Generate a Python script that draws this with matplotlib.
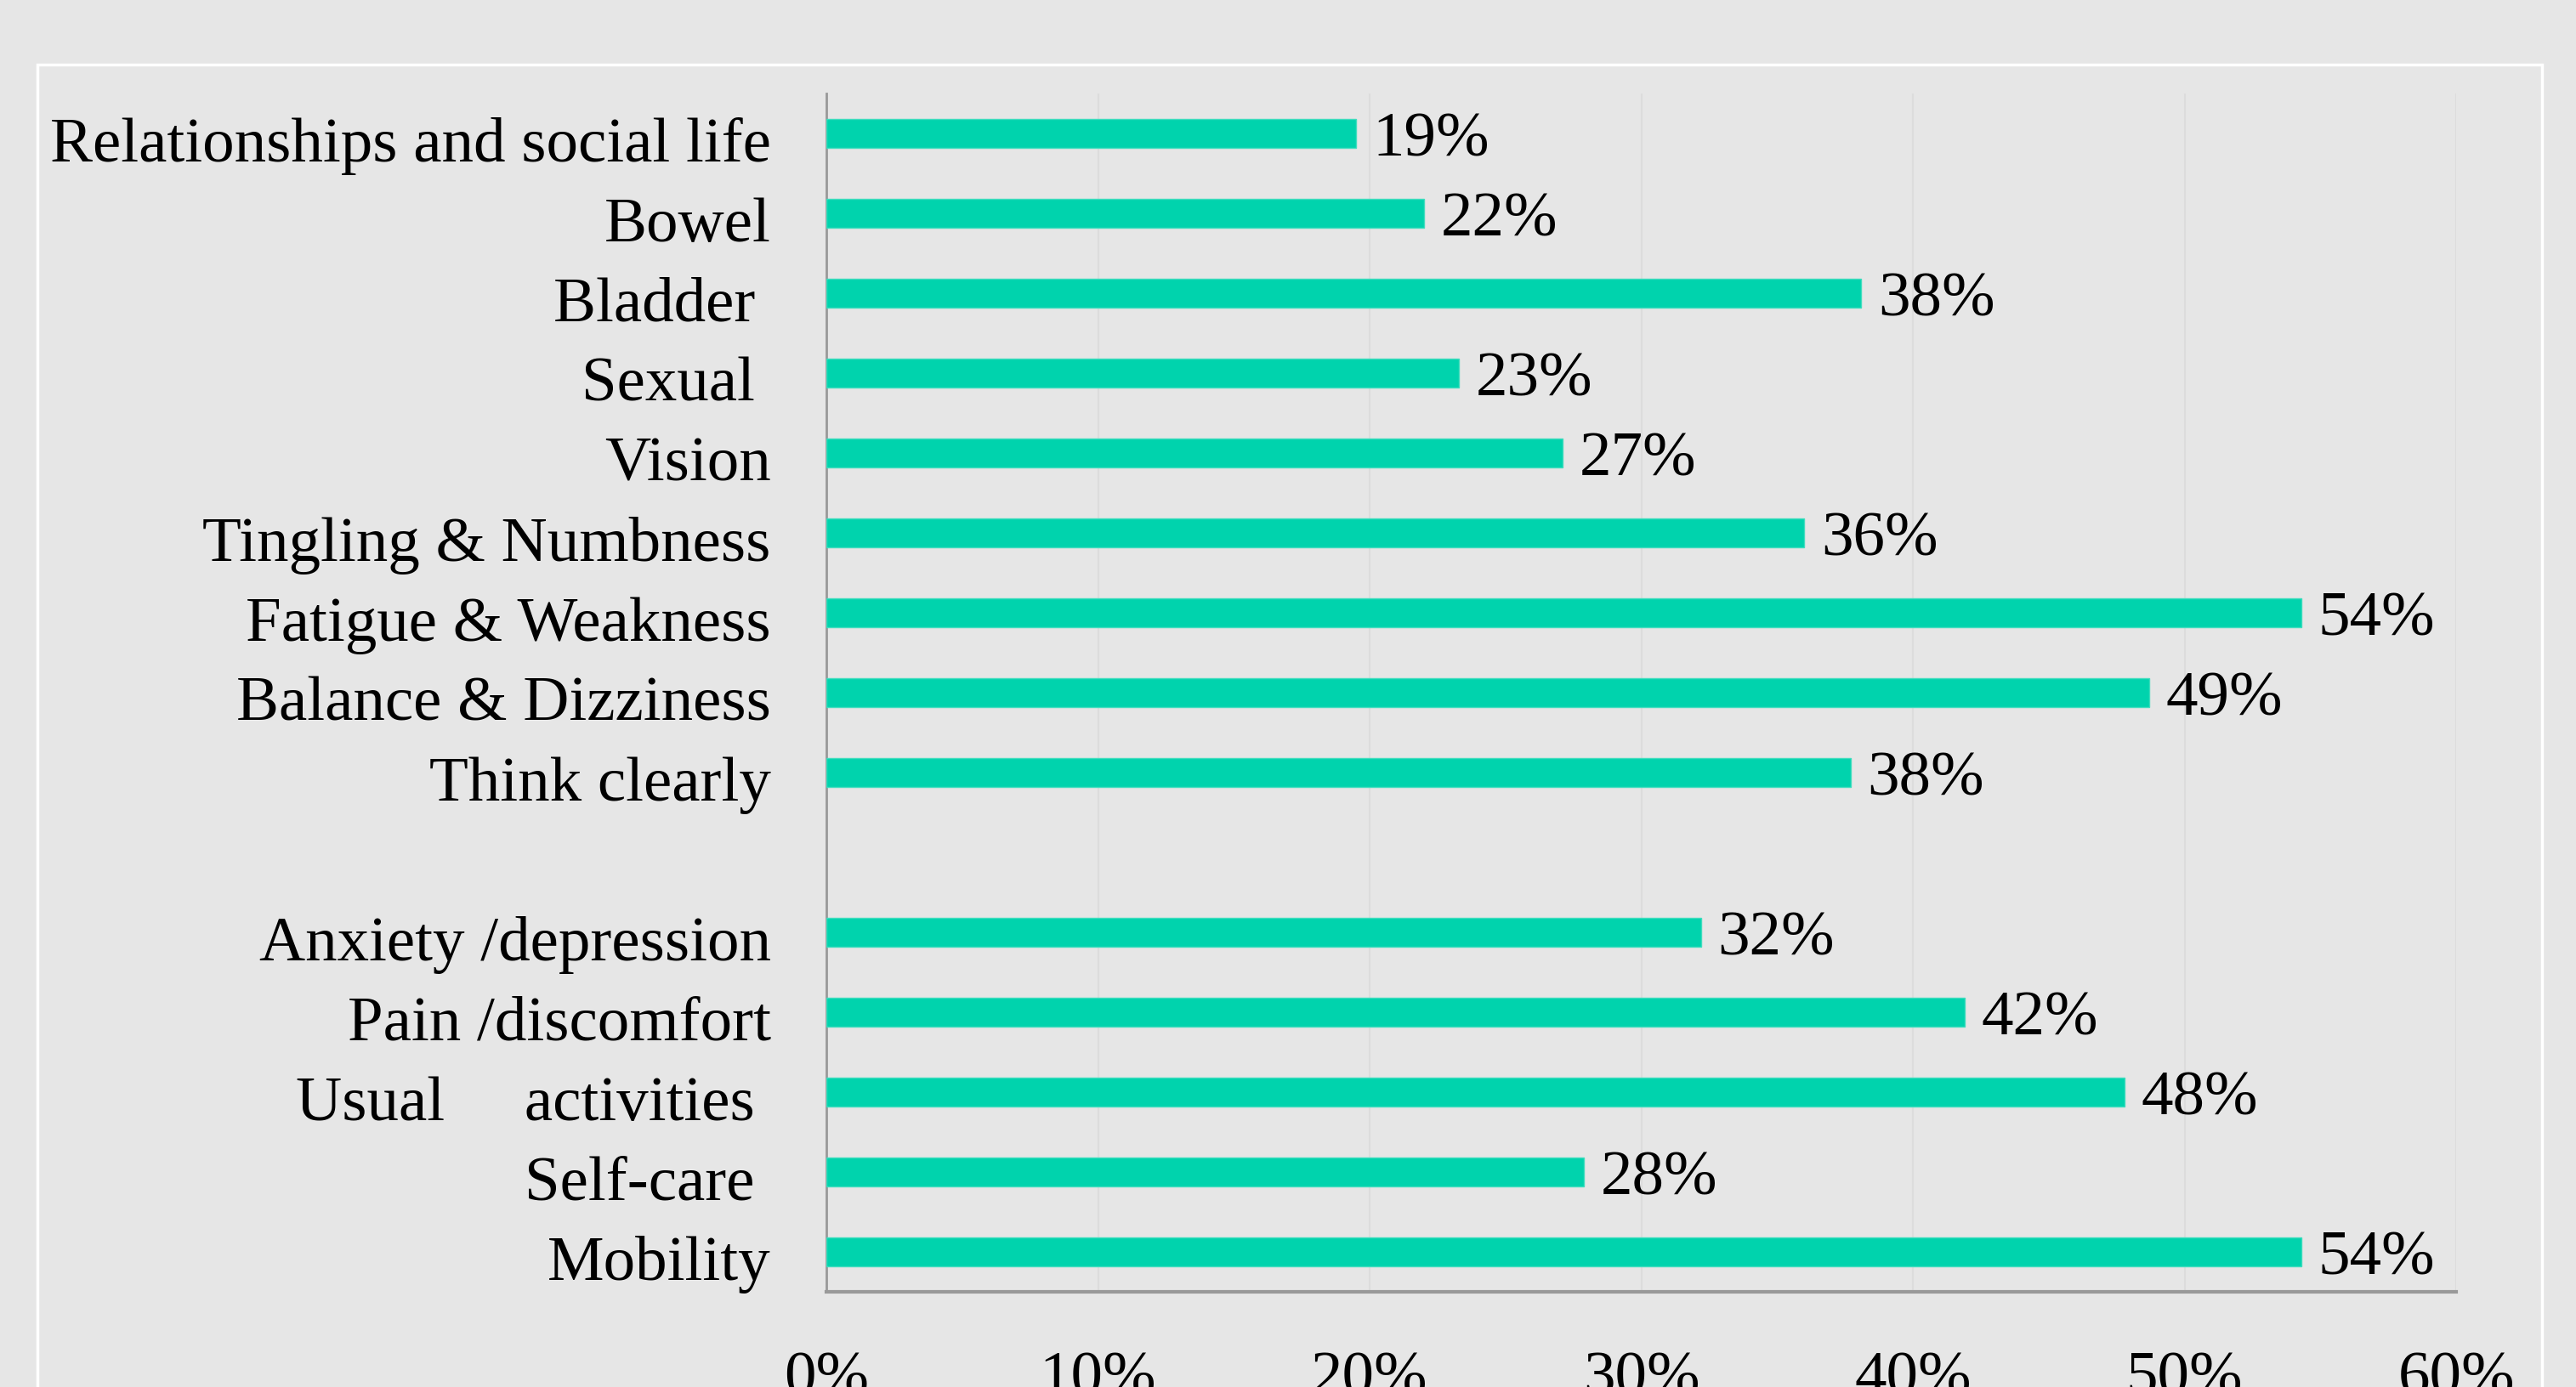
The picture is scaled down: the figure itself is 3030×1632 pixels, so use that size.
import matplotlib.pyplot as plt
from matplotlib.patches import Rectangle
from matplotlib.ticker import FuncFormatter
from matplotlib.transforms import ScaledTranslation

# categories top to bottom (blank slot separates the two groups)
labels = ["Relationships and social life", "Bowel", "Bladder ", "Sexual ", "Vision",
          "Tingling & Numbness", "Fatigue & Weakness", "Balance & Dizziness",
          "Think clearly", "", "Anxiety /depression", "Pain /discomfort",
          "Usual     activities ", "Self-care ", "Mobility"]
values = [19.5, 22.0, 38.1, 23.3, 27.1, 36.0, 54.3, 48.7, 37.7, None,
          32.2, 41.9, 47.8, 27.9, 54.3]
value_text = ["19%", "22%", "38%", "23%", "27%", "36%", "54%", "49%", "38%", "",
              "32%", "42%", "48%", "28%", "54%"]
xticks = [0, 10, 20, 30, 40, 50, 60]

bg = "#E6E6E6"
bar_col = "#00D3AD"
plt.rcParams['font.family'] = ['Liberation Serif', 'DejaVu Serif']

fig = plt.figure(figsize=(30.3, 16.33), dpi=100)
fig.patch.set_facecolor(bg)

# white chart-area frame (bottom runs off the picture)
frame = Rectangle((0.0145, -0.1), 0.9723, 1.0528, transform=fig.transFigure,
                  fill=False, edgecolor="white", lw=2.5)
fig.add_artist(frame)

ax = fig.add_axes([0.3208, 0.0686, 0.6327, 0.8634])
ax.set_facecolor(bg)

ypos = list(range(len(labels)))
for y, v, t in zip(ypos, values, value_text):
    if v is None:
        continue
    ax.barh(y, v, height=0.36, color=bar_col, edgecolor="#3FDDBE", lw=1, zorder=3)
    ax.annotate(t, (v, y), xytext=(14, 0), textcoords="offset points",
                va="center_baseline", ha="left", fontsize=54, color="black")

ax.set_ylim(len(labels) - 0.5, -0.5)
ax.set_xlim(0, 60)
ax.set_yticks(ypos)
ax.set_yticklabels(labels, fontsize=54)
ax.set_xticks(xticks)
ax.xaxis.set_major_formatter(FuncFormatter(lambda x, p: f"{x:.0f}%"))
ax.tick_params(axis="x", length=0, pad=50, labelsize=54)
ax.tick_params(axis="y", length=0, pad=47)

# nudge category labels down a little
shift = ScaledTranslation(0, -0.06, fig.dpi_scale_trans)
for lab in ax.get_yticklabels():
    lab.set_transform(lab.get_transform() + shift)

ax.grid(axis="x", color="#DCDCDC", lw=1.5, zorder=0)
ax.set_axisbelow(True)
for s in ["top", "right"]:
    ax.spines[s].set_visible(False)
ax.spines["left"].set_color("#999999")
ax.spines["left"].set_linewidth(2)
ax.spines["bottom"].set_color("#999999")
ax.spines["bottom"].set_linewidth(3)

plt.savefig("out.png", dpi=100, facecolor=bg)
